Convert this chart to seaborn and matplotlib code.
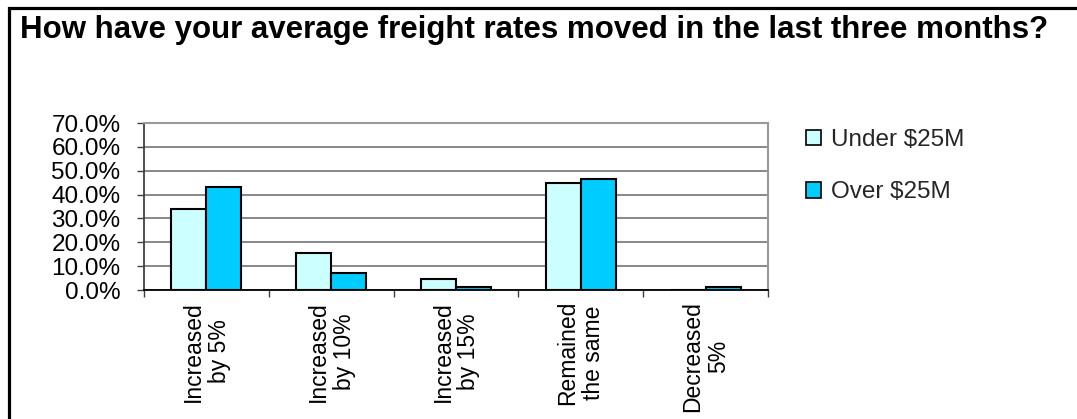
import matplotlib
matplotlib.use("Agg")
import matplotlib.pyplot as plt
import seaborn as sns
import pandas as pd
from matplotlib.patches import Patch, Rectangle

categories = ["Increased\nby 5%", "Increased\nby 10%", "Increased\nby 15%",
              "Remained\nthe same", "Decreased\n5%"]
under_25m = [33.9, 15.6, 4.7, 44.7, 0.0]
over_25m = [43.2, 7.1, 1.4, 46.5, 1.4]
series_names = ["Under $25M", "Over $25M"]
y_ticks = [0, 10, 20, 30, 40, 50, 60, 70]
title = "How have your average freight rates moved in the last three months?"

colors = {"Under $25M": "#CCFFFF", "Over $25M": "#00CCFF"}

df = pd.DataFrame({
    "category": categories * 2,
    "value": under_25m + over_25m,
    "series": [series_names[0]] * len(categories) + [series_names[1]] * len(categories),
})

sns.set_theme(style="white")
plt.rcParams["font.family"] = ["Liberation Sans", "DejaVu Sans"]

W, H = 1077, 419
fig = plt.figure(figsize=(W / 100, H / 100), dpi=100)
fig.patch.set_facecolor("white")

ax = fig.add_axes([144 / W, 1 - 290 / H, (768 - 144) / W, (290 - 123) / H])
sns.barplot(data=df, x="category", y="value", hue="series", order=categories,
            hue_order=series_names, palette=colors, saturation=1,
            edgecolor="black", linewidth=1.5, width=0.56, gap=0,
            legend=False, ax=ax, zorder=3)

ax.set_xlim(-0.5, len(categories) - 0.5)
ax.set_ylim(0, 70)
ax.set_yticks(y_ticks)
ax.set_yticklabels([f"{v:.1f}%" for v in y_ticks], fontsize=17.5, color="black")
ax.yaxis.grid(True, color="#7f7f7f", linewidth=1.3, zorder=0)
ax.set_axisbelow(True)
ax.set_xlabel("")
ax.set_ylabel("")

ax.set_xticks(range(len(categories)))
ax.set_xticklabels(categories, rotation=90, fontsize=16.5, color="black",
                   ha="center", va="top", multialignment="center",
                   linespacing=1.15)
ax.tick_params(axis="x", which="major", length=0, pad=8)
ax.set_xticks([i - 0.5 for i in range(len(categories) + 1)], minor=True)
ax.tick_params(axis="x", which="minor", length=5, width=1, color="#404040",
               direction="out", bottom=True)
ax.tick_params(axis="y", length=5, width=1, color="#404040", direction="out",
               left=True, pad=12)

for side in ["top", "right"]:
    ax.spines[side].set_visible(True)
    ax.spines[side].set_color("#999999")
    ax.spines[side].set_linewidth(1.5)
ax.spines["left"].set_color("#404040")
ax.spines["left"].set_linewidth(1.3)
ax.spines["bottom"].set_color("black")
ax.spines["bottom"].set_linewidth(1.3)

handles = [Patch(facecolor=colors[n], edgecolor="black", linewidth=1.2) for n in series_names]
fig.legend(handles, series_names, loc="upper left",
           bbox_to_anchor=(806 / W, 1 - 129 / H), frameon=False, fontsize=17.5,
           handlelength=0.62, handleheight=0.62, handletextpad=0.4,
           labelspacing=1.25, borderaxespad=0, borderpad=0)

fig.text(20 / W, 1 - 38 / H, title, fontsize=22.5, fontweight="bold",
         ha="left", va="baseline", color="black")

fig.patches.append(Rectangle((8.5 / W, -0.1), 1.2, 1 - 8.5 / H + 0.1,
                             transform=fig.transFigure, fill=False,
                             edgecolor="black", linewidth=2.3))

fig.savefig("out.png", dpi=100)
